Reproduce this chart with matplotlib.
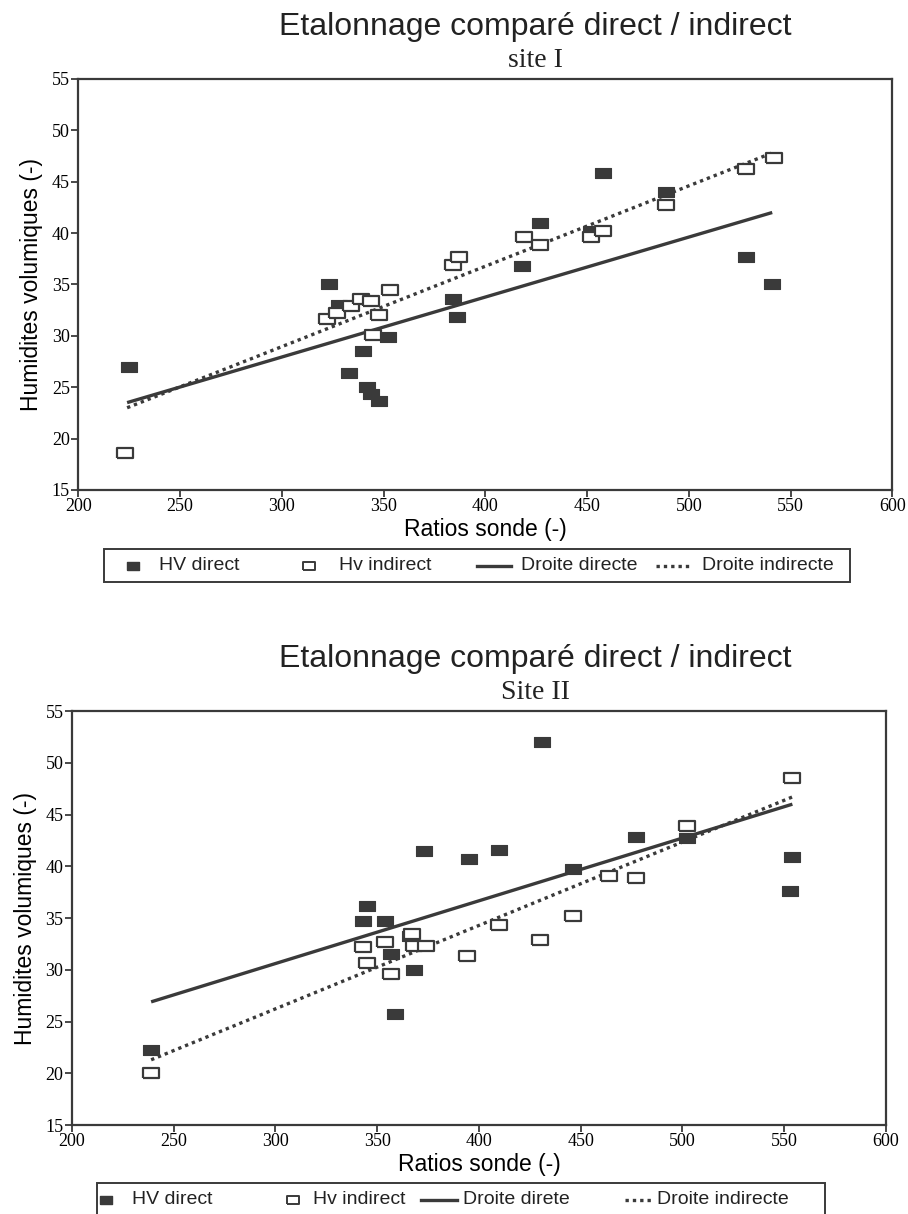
import numpy as np
import matplotlib.pyplot as plt
from matplotlib.lines import Line2D
from matplotlib.patches import Rectangle

# Site I
x1_direct = [225, 323, 328, 340, 333, 342, 344, 348, 352, 384, 386, 427, 418, 452, 458, 489, 528, 541]
y1_direct = [27.0, 35.0, 33.0, 28.5, 26.4, 25.0, 24.3, 23.7, 29.9, 33.6, 31.8, 41.0, 36.8, 40.2, 45.8, 44.0, 37.7, 35.0]
x1_indirect = [223, 322, 327, 334, 339, 344, 348, 345, 353, 384, 387, 419, 427, 452, 458, 489, 528, 542]
y1_indirect = [18.6, 31.6, 32.2, 32.9, 33.6, 33.4, 32.0, 30.1, 34.5, 36.9, 37.7, 39.6, 38.8, 39.6, 40.2, 42.7, 46.2, 47.3]
x1_fit = [224, 541]
y1_fit_direct = [23.5, 42.0]
y1_fit_indirect = [23.0, 47.8]

# Site II
x2_direct = [239, 345, 343, 354, 357, 366, 368, 359, 373, 395, 431, 410, 477, 446, 502, 554, 553]
y2_direct = [22.2, 36.2, 34.7, 34.7, 31.5, 33.3, 30.0, 25.7, 41.5, 40.7, 52.0, 41.6, 42.8, 39.7, 42.7, 40.9, 37.6]
x2_indirect = [239, 343, 345, 354, 357, 367, 368, 374, 394, 410, 430, 446, 464, 477, 502, 554]
y2_indirect = [20.0, 32.2, 30.7, 32.7, 29.6, 33.5, 32.3, 32.3, 31.3, 34.3, 32.9, 35.2, 39.1, 38.9, 43.9, 48.5]
x2_fit = [239, 554]
y2_fit_direct = [26.9, 46.0]
y2_fit_indirect = [21.3, 46.7]

xticks = [200, 250, 300, 350, 400, 450, 500, 550, 600]
yticks = [15, 20, 25, 30, 35, 40, 45, 50, 55]

dark = '#3a3a3a'
rect = [(-1, -0.6), (1, -0.6), (1, 0.6), (-1, 0.6), (-1, -0.6)]
sans = 'Liberation Sans'
serif = 'Liberation Serif'
dots = (0, (1, 1.2))

W, H = 908, 1214
fig = plt.figure(figsize=(W / 100, H / 100), dpi=100)


def px(x, y):
    # pixel position (from top-left) to figure fraction
    return x / W, 1 - y / H


def legend_box(box, items):
    x0, y0, x1, y1 = box
    fx0, fy1 = px(x0, y1)
    fx1, fy0 = px(x1, y0)
    fig.patches.append(Rectangle((fx0, fy1), fx1 - fx0, fy0 - fy1, transform=fig.transFigure,
                                 fill=False, ec=dark, lw=1.4))
    yc = (y0 + y1) / 2
    for kind, hx, tx, label in items:
        if kind == 'filled':
            fig.lines.append(Line2D([px(hx, yc)[0]], [px(hx, yc)[1]], transform=fig.transFigure,
                                    ls='none', marker=rect, ms=9, mfc=dark, mec=dark))
        elif kind == 'hollow':
            fig.lines.append(Line2D([px(hx, yc)[0]], [px(hx, yc)[1]], transform=fig.transFigure,
                                    ls='none', marker=rect, ms=9, mfc='white', mec=dark, mew=1.4))
        else:
            ls = '-' if kind == 'solid' else dots
            fig.lines.append(Line2D([px(hx[0], yc)[0], px(hx[1], yc)[0]], [px(0, yc)[1]] * 2,
                                    transform=fig.transFigure, color=dark, lw=2.4, ls=ls))
        fig.text(*px(tx, yc), label, family=sans, fontsize=14, ha='left', va='center',
                 color='#222222')


def panel(rect_ax, xd, yd, xi, yi, xf, yfd, yfi, subtitle):
    ax = fig.add_axes(rect_ax)
    ax.plot(xf, yfd, color=dark, lw=2.4, solid_capstyle='butt')
    ax.plot(xf, yfi, color=dark, lw=2.4, ls=dots)
    ax.plot(xd, yd, ls='none', marker=rect, ms=12, mfc=dark, mec=dark, mew=0.8)
    ax.plot(xi, yi, ls='none', marker=rect, ms=12, mfc='white', mec=dark, mew=1.6)
    ax.set_xlim(200, 600)
    ax.set_ylim(15, 55)
    ax.set_xticks(xticks)
    ax.set_yticks(yticks)
    for lbl in ax.get_xticklabels() + ax.get_yticklabels():
        lbl.set_family(serif)
        lbl.set_fontsize(13)
    ax.tick_params(direction='out', length=5, width=1.3, color=dark, pad=1)
    for s in ax.spines.values():
        s.set_color(dark)
        s.set_linewidth(1.6)
    ax.set_xlabel('Ratios sonde (-)', family=sans, fontsize=16.5, labelpad=2)
    ax.set_ylabel('Humidites volumiques (-)', family=sans, fontsize=16.5, labelpad=6)
    top = rect_ax[1] + rect_ax[3]
    fig.text(0.59, top + 0.0425, 'Etalonnage comparé direct / indirect',
             family=sans, fontsize=23, ha='center', va='center', color='#222222')
    fig.text(0.59, top + 0.0155, subtitle, family=serif, fontsize=20,
             ha='center', va='center', color='#222222')
    return ax


panel([0.0862, 0.5964, 0.8965, 0.3386], x1_direct, y1_direct, x1_indirect, y1_indirect,
      x1_fit, y1_fit_direct, y1_fit_indirect, 'site I')
legend_box((104, 549, 850, 582), [
    ('filled', 133, 159, 'HV direct'),
    ('hollow', 309, 339, 'Hv indirect'),
    ('solid', (477, 511), 521, 'Droite directe'),
    ('dotted', (656, 692), 702, 'Droite indirecte'),
])

panel([0.0790, 0.0733, 0.8968, 0.3410], x2_direct, y2_direct, x2_indirect, y2_indirect,
      x2_fit, y2_fit_direct, y2_fit_indirect, 'Site II')
legend_box((97, 1183, 825, 1216), [
    ('filled', 106, 132, 'HV direct'),
    ('hollow', 293, 313, 'Hv indirect'),
    ('solid', (421, 457), 463, 'Droite direte'),
    ('dotted', (625, 652), 657, 'Droite indirecte'),
])

fig.savefig('out.png', dpi=100)
